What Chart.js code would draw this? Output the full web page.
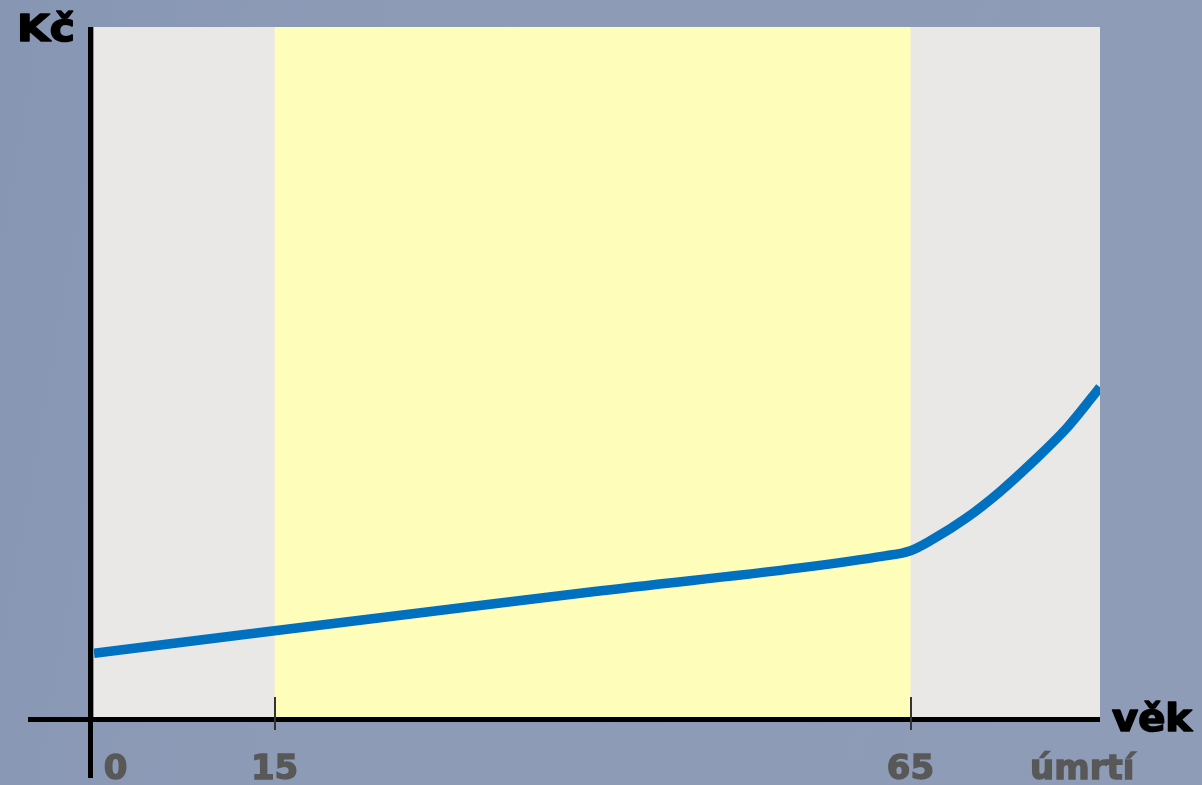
<!DOCTYPE html>
<html>
<head>
<meta charset="utf-8">
<script src="https://cdn.jsdelivr.net/npm/chart.js@4.4.1/dist/chart.umd.min.js"></script>
<style>
  html, body { margin: 0; padding: 0; }
  body { width: 1202px; height: 785px; background: linear-gradient(100deg, #8696b3 0%, #8e9bb7 30%, #8f9cb7 100%); overflow: hidden; }
  #graf { display: block; }
</style>
</head>
<body>
<canvas id="graf" width="1202" height="785"></canvas>
<script>
// vek (roky) a Kc - odhad z obrazku
const vek = [0.8, 15, 40, 63, 65, 66.7, 69.4, 72, 74.6, 77.3, 79.3, 79.9];
const kc = [9.25, 12.5, 18.15, 23.35, 24.1, 25.7, 28.85, 32.6, 36.95, 41.9, 46.4, 47.8];

// popisky osy x
const tickVek = [2.5, 15, 65, 78.5];
const tickPopis = ['0', '15', '65', 'úmrtí'];

// hranice produktivniho veku (zluty pas)
const produktivni = [15, 65];

const pismo = '"DejaVu Sans", "Liberation Sans", Arial, sans-serif';

function napis(c, text, x, y, sirka) {
  c.save();
  let w = c.measureText(text).width;
  c.translate(x, y);
  c.scale(sirka / w, 1);
  c.strokeText(text, 0, 0);
  c.fillText(text, 0, 0);
  c.restore();
}

const pozadi = {
  id: 'pozadi',
  beforeDatasetsDraw(chart) {
    const c = chart.ctx, a = chart.chartArea, x = chart.scales.x;
    c.save();
    c.fillStyle = '#e9e8e6';
    c.fillRect(a.left, a.top, a.right - a.left, a.bottom - a.top);
    let x1 = x.getPixelForValue(produktivni[0]);
    let x2 = x.getPixelForValue(produktivni[1]);
    c.fillStyle = '#fffdb9';
    c.fillRect(x1, a.top, x2 - x1, a.bottom - a.top);
    c.restore();
  },
  afterDraw(chart) {
    const c = chart.ctx, a = chart.chartArea, x = chart.scales.x;
    c.save();
    c.fillStyle = '#000';
    // osy
    c.fillRect(a.left - 6, a.top, 5, 778 - a.top);
    c.fillRect(28, a.bottom, a.right - 28, 5);
    // carky 15 a 65
    c.fillStyle = '#333';
    produktivni.forEach(v => {
      let px = Math.round(x.getPixelForValue(v));
      c.fillRect(px - 1, a.bottom - 20, 2, 33);
    });
    c.fillStyle = '#000';
    c.strokeStyle = '#000';
    c.lineWidth = 1.6;
    c.lineJoin = 'round';
    c.font = 'bold 37px ' + pismo;
    c.textBaseline = 'alphabetic';
    napis(c, 'Kč', 17, 41, 58);
    napis(c, 'věk', 1112, 731, 80);
    c.restore();
  }
};

const data = {
  datasets: [{
    label: 'Kč',
    data: vek.map((v, i) => ({ x: v, y: kc[i] })),
    borderColor: '#0070c0',
    borderWidth: 9.5,
    pointRadius: 0,
    fill: false,
    cubicInterpolationMode: 'monotone',
    clip: 0
  }]
};

const config = {
  type: 'line',
  data: data,
  plugins: [pozadi],
  options: {
    responsive: false,
    animation: false,
    events: [],
    layout: { padding: { left: 94, right: 102, top: 27, bottom: 0 } },
    plugins: { legend: { display: false }, tooltip: { enabled: false } },
    scales: {
      x: {
        type: 'linear',
        min: 0.8,
        max: 79.9,
        grid: { display: false },
        border: { display: false },
        afterFit: s => { s.height = 68; },
        afterBuildTicks: s => { s.ticks = tickVek.map(v => ({ value: v })); },
        ticks: {
          autoSkip: false,
          maxRotation: 0,
          padding: 25,
          color: '#585858',
          textStrokeColor: '#585858',
          textStrokeWidth: 1.4,
          font: { family: pismo, size: 34, weight: 'bold' },
          callback: (v, i) => tickPopis[i]
        }
      },
      y: {
        display: false,
        min: 0,
        max: 100
      }
    }
  }
};

new Chart(document.getElementById('graf').getContext('2d'), config);
</script>
</body>
</html>
